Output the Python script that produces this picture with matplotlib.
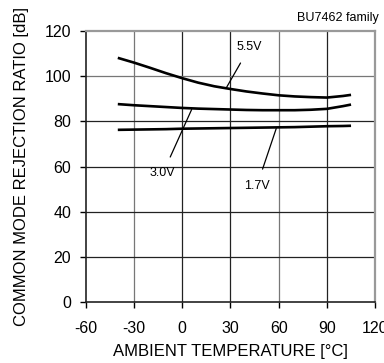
import matplotlib
matplotlib.use('Agg')

import matplotlib.pyplot as plt

# temperature points [degC]
temps = [-40, -30, -20, -10, 0, 10, 20, 30, 40, 50, 60, 70, 80, 90, 100, 105]

# CMRR [dB] per supply voltage
cmrr_5v5 = [108.2, 106.1, 103.8, 101.4, 99.2, 97.2, 95.6, 94.4, 93.3, 92.4,
            91.6, 91.1, 90.8, 90.6, 91.3, 91.8]
cmrr_3v0 = [87.7, 87.2, 86.8, 86.4, 86.0, 85.7, 85.5, 85.3, 85.1, 85.0,
            85.0, 85.0, 85.2, 85.6, 86.8, 87.5]
cmrr_1v7 = [76.3, 76.4, 76.5, 76.6, 76.8, 76.9, 77.0, 77.1, 77.2, 77.3,
            77.4, 77.5, 77.7, 77.9, 78.0, 78.1]

x_ticks = [-60, -30, 0, 30, 60, 90, 120]
y_ticks = [0, 20, 40, 60, 80, 100, 120]

plt.rcParams['font.family'] = ['Liberation Sans', 'DejaVu Sans']
plt.rcParams['axes.unicode_minus'] = False

fig = plt.figure(figsize=(3.84, 3.63), dpi=100)
ax = fig.add_axes([0.223, 0.168, 0.754, 0.746])

# grid (scanned look: some lines a bit lighter)
for x in x_ticks[1:-1]:
    c = '#777777' if x in (-30, 60) else '#222222'
    ax.axvline(x, color=c, lw=0.9, zorder=1)
for y in y_ticks[1:-1]:
    c = '#777777' if y == 100 else '#222222'
    ax.axhline(y, color=c, lw=0.9, zorder=1)

for vals in (cmrr_5v5, cmrr_3v0, cmrr_1v7):
    ax.plot(temps, vals, color='black', lw=1.9, solid_capstyle='butt', zorder=3)

# curve labels with leader lines
ax.annotate('5.5V', xy=(27.2, 94.6), xytext=(42, 113), fontsize=9,
            ha='center', va='center',
            arrowprops=dict(arrowstyle='-', color='black', lw=0.9, shrinkA=6, shrinkB=0))
ax.annotate('3.0V', xy=(5.9, 85.3), xytext=(-12, 57), fontsize=9,
            ha='center', va='center',
            arrowprops=dict(arrowstyle='-', color='black', lw=0.9, shrinkA=6, shrinkB=0))
ax.annotate('1.7V', xy=(58.5, 76.9), xytext=(46.5, 51.5), fontsize=9,
            ha='center', va='center',
            arrowprops=dict(arrowstyle='-', color='black', lw=0.9, shrinkA=6, shrinkB=0))

ax.set_xlim(-60, 120)
ax.set_ylim(0, 120)
ax.set_xticks(x_ticks)
ax.set_yticks(y_ticks)
ax.tick_params(direction='out', length=4.5, width=1, labelsize=11.5)
ax.tick_params(axis='x', pad=9)
ax.tick_params(axis='y', pad=6)

for side in ('top', 'right'):
    ax.spines[side].set_color('#999999')
    ax.spines[side].set_linewidth(1.6)
for side in ('left', 'bottom'):
    ax.spines[side].set_color('#222222')
    ax.spines[side].set_linewidth(1.2)

ax.set_xlabel('AMBIENT TEMPERATURE [\u00b0C]', fontsize=12, labelpad=6)
ax.set_ylabel('COMMON MODE REJECTION RATIO [dB]', fontsize=12)
ax.yaxis.set_label_coords(-0.195, 0.5)

fig.text(0.987, 0.95, 'BU7462 family', ha='right', va='center', fontsize=9)

fig.savefig('out.png', dpi=100)
